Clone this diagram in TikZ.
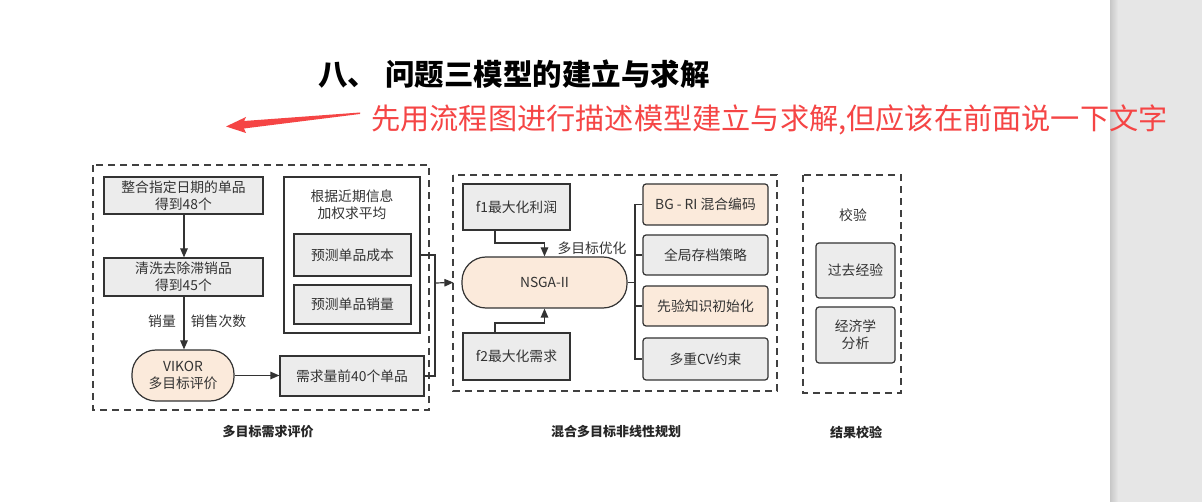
\documentclass[tikz,border=0pt]{standalone}
\usepackage{fontspec}
\setmainfont{Noto Sans CJK SC}
\newfontfamily\cjk{Noto Sans CJK SC}
\usetikzlibrary{arrows.meta,calc}
\definecolor{lc}{HTML}{333333}
\definecolor{gfill}{HTML}{ECECEC}
\definecolor{pfill}{HTML}{FBEADB}
\definecolor{redc}{HTML}{F54545}
\definecolor{strip}{HTML}{E6E6E6}
\tikzset{
  every node/.style={font=\fontsize{13.8}{17}\selectfont, text=black!80, align=center, inner sep=0pt},
  gbox/.style={draw=lc, line width=1.2pt, fill=gfill},
  rbox/.style={gbox, rounded corners=3pt},
  pbox/.style={rbox, fill=pfill},
  stad/.style={draw=lc, line width=1.2pt, fill=pfill, rounded corners=24pt},
  wbox/.style={draw=lc, line width=1.2pt, fill=white},
  dbox/.style={draw=black!75, line width=1.2pt, dash pattern=on 7pt off 5pt},
  conn/.style={draw=lc, line width=1.2pt},
  arr/.style={conn, -{Triangle[length=9pt,width=7.5pt]}},
  grp/.style={font=\fontsize{13}{16}\selectfont\bfseries, text=black!85},
}
\begin{document}
\begin{tikzpicture}[x=1pt,y=-1pt]
\useasboundingbox (0,0) rectangle (1202,502);
\fill[white] (0,0) rectangle (1202,502);
% right strip
\fill[strip] (1110,0) rectangle (1202,502);
\shade[left color=black!22, right color=strip] (1110,0) rectangle (1118,502);

% title
\node[font=\fontsize{29.5}{32}\selectfont\bfseries, text=black, anchor=west] (title) at (318,74) {八、\hspace{8pt}问题三模型的建立与求解};
\node[font=\fontsize{29.2}{32}\selectfont, text=redc, anchor=west] (note) at (371,120) {先用流程图进行描述模型建立与求解,但应该在前面说一下文字};
% red arrow
\fill[redc] (360,112.5) -- (244,121) -- (246,117) -- (226,126.5) -- (246,133) -- (244,128.5) -- (360,114) -- cycle;

% ---------- left group ----------
\draw[dbox] (93,165) rectangle (429,410);
\node[gbox, minimum width=159pt, minimum height=37pt] (n1) at (183.5,195.5) {整合指定日期的单品\\得到48个};
\node[gbox, minimum width=159pt, minimum height=38pt] (n2) at (183.5,277) {清洗去除滞销品\\得到45个};
\node[stad, minimum width=102pt, minimum height=51pt] (vik) at (183,375.5) {VIKOR\\多目标评价};
\node[gbox, minimum width=144pt, minimum height=40pt] (dem) at (352,376) {需求量前40个单品};
\node[wbox, minimum width=136pt, minimum height=156pt] (big) at (352,255) {};
\node (bigt) at (352,205) {根据近期信息\\加权求平均};
\node[gbox, minimum width=117pt, minimum height=42pt] (cost) at (352.5,255) {预测单品成本};
\node[gbox, minimum width=117pt, minimum height=39pt] (sale) at (352.5,304.5) {预测单品销量};
\node (l1) at (162,321) {销量};
\node (l2) at (218.5,321) {销售次数};
\draw[arr] (n1.south -| 184,0) -- (n2.north -| 184,0);
\draw[arr] (n2.south -| 184,0) -- (vik.north -| 184,0);
\draw[arr] (vik.east) -- (vik.east -| dem.west);
\coordinate (j) at (435,283);
\draw[conn] (big.east) -- (435,255) |- (dem.east);
\node[grp] (g1) at (268,432) {多目标需求评价};

% ---------- middle group ----------
\draw[dbox] (453,175) rectangle (777,391);
\node[gbox, minimum width=107pt, minimum height=46pt] (f1) at (516.5,207) {f1最大化利润};
\node[gbox, minimum width=107pt, minimum height=47pt] (f2) at (516.5,356.5) {f2最大化需求};
\node[stad, minimum width=165pt, minimum height=51pt] (ns) at (544.5,282.5) {NSGA-II};
\draw[arr] (j) -- ([xshift=-8pt]ns.west);
\draw[arr] (495,230) -- (495,243) -| (ns.north);
\draw[arr] (495,333) -- (495,323) -| (ns.south);
\node (mo) at (592,248) {多目标优化};
\node[pbox, minimum width=125pt, minimum height=41pt] (b1) at (705.5,204.5) {BG - RI 混合编码};
\node[rbox, minimum width=125pt, minimum height=40pt] (b2) at (705.5,255) {全局存档策略};
\node[pbox, minimum width=125pt, minimum height=40pt] (b3) at (705.5,306) {先验知识初始化};
\node[rbox, minimum width=125pt, minimum height=42pt] (b4) at (705.5,359) {多重CV约束};
\draw[conn] (ns.east) -- (635,282.5);
\draw[conn] (b1.west) -- (635,204.5) -- (635,359) -- (b4.west);
\draw[conn] (b2.west) -- (635,255);
\draw[conn] (b3.west) -- (635,306);
\node[grp] (g2) at (616,432) {混合多目标非线性规划};

% ---------- right group ----------
\draw[dbox] (803,175) rectangle (901,393);
\node (chk) at (853,215) {校验};
\node[rbox, minimum width=79pt, minimum height=55pt] (c1) at (855.5,270.5) {过去经验};
\node[rbox, minimum width=79pt, minimum height=56pt] (c2) at (855.5,335) {经济学\\分析};
\node[grp] (g3) at (856,432) {结果校验};
\end{tikzpicture}
\end{document}
